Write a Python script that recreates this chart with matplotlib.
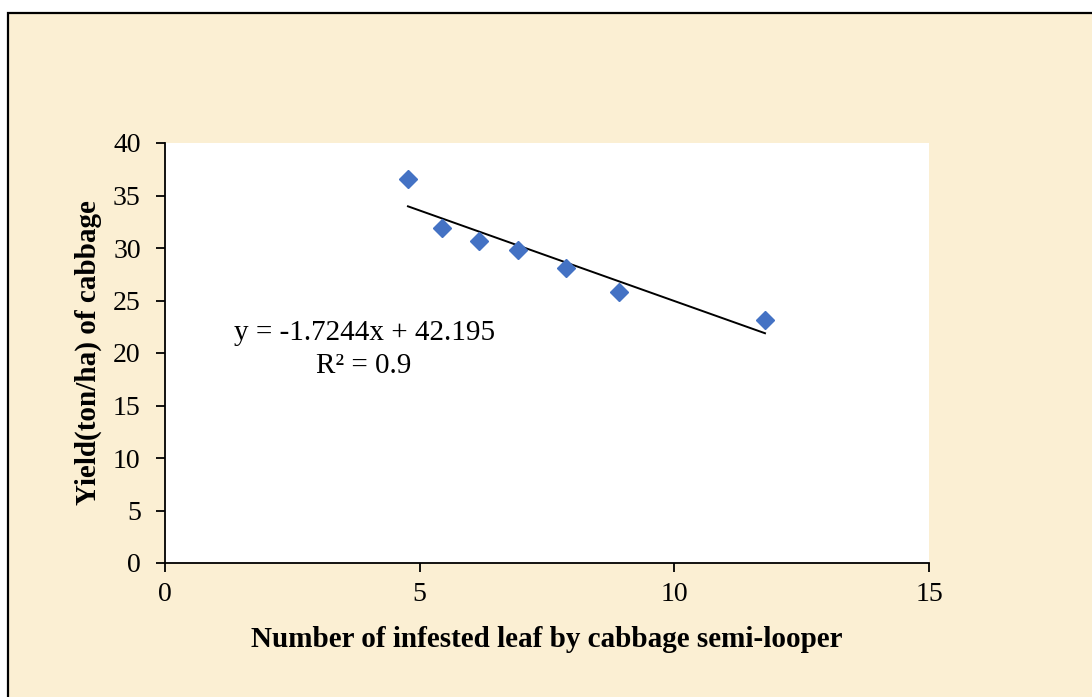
import numpy as np
import matplotlib.pyplot as plt
from matplotlib.patches import Rectangle

# data
infested_leaf = [4.77, 5.44, 6.17, 6.93, 7.87, 8.91, 11.78]
yield_t_ha = [36.6, 31.9, 30.7, 29.8, 28.1, 25.8, 23.1]
slope, intercept = -1.7244, 42.195
eq_label = 'y = -1.7244x + 42.195\nR² = 0.9'
x_ticks = [0, 5, 10, 15]
y_ticks = [0, 5, 10, 15, 20, 25, 30, 35, 40]

plt.rcParams['font.family'] = ['Liberation Serif', 'DejaVu Serif']

fig = plt.figure(figsize=(10.92, 6.97), dpi=100)
fig.patch.set_facecolor('white')

# beige chart area with a black frame
bg = Rectangle((8 / 1092, -0.05), 1.1, 1 - 13 / 697 + 0.05, transform=fig.transFigure,
               facecolor='#fbefd3', edgecolor='black', linewidth=1.6, zorder=-10)
fig.patches.append(bg)

ax = fig.add_axes([165 / 1092, 1 - 563 / 697, 764 / 1092, 420 / 697])
ax.set_zorder(1)
ax.set_facecolor('white')

ax.plot(infested_leaf, yield_t_ha, linestyle='none', marker='D', ms=9.5,
        color='#4472c4', zorder=3)

xs = np.array([min(infested_leaf), max(infested_leaf)])
ax.plot(xs, slope * xs + intercept, color='black', linewidth=1.4, zorder=2)

ax.text(3.91, 20.3, eq_label, ha='center', va='center', multialignment='center',
        fontsize=21, linespacing=1.35)

ax.set_xlim(0, 15)
ax.set_ylim(0, 40)
ax.set_xticks(x_ticks)
ax.set_yticks(y_ticks)
ax.tick_params(direction='out', length=6.5, width=1.3, labelsize=20)
ax.tick_params(axis='x', pad=7)
ax.tick_params(axis='y', pad=11)
for s in ['top', 'right']:
    ax.spines[s].set_visible(False)
for s in ['left', 'bottom']:
    ax.spines[s].set_linewidth(1.3)

ax.set_xlabel('Number of infested leaf by cabbage semi-looper', fontsize=21,
              fontweight='bold', va='center')
ax.set_ylabel('Yield(ton/ha) of cabbage', fontsize=21, fontweight='bold', va='center')
ax.xaxis.set_label_coords(0.5, -0.183)
ax.yaxis.set_label_coords(-0.1, 0.502)

fig.savefig('out.png', dpi=100)
